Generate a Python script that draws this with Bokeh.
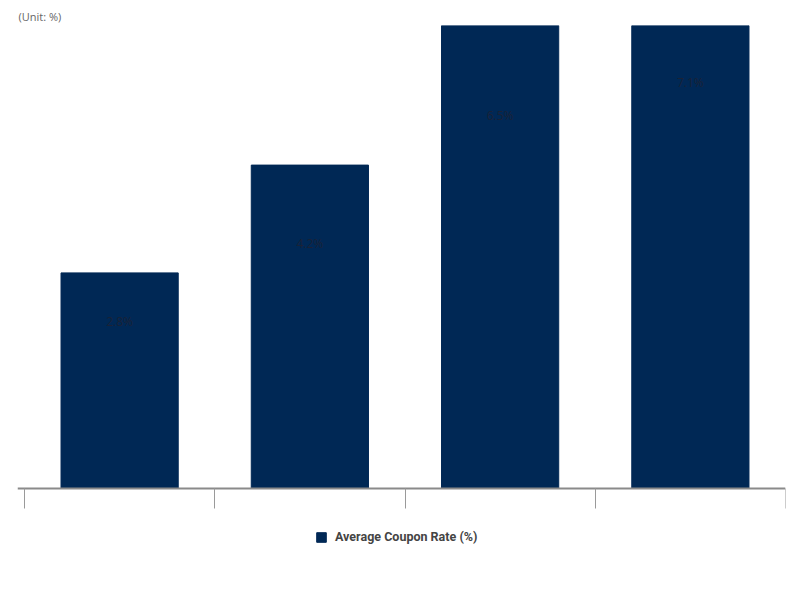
from bokeh.plotting import figure
from bokeh.models import (ColumnDataSource, Range1d, Legend, LegendItem, FixedTicker,
                          LinearAxis, CustomJSTickFormatter)
from bokeh.embed import file_html
from bokeh.resources import INLINE
from bokeh.core.properties import value

categories = ["A", "B", "C", "D"]
positions = [0.5, 1.5, 2.5, 3.5]
rates = [2.8, 4.2, 6.5, 7.1]
labels = ["2.8%", "4.2%", "6.5%", "7.1%"]

src = ColumnDataSource(dict(x=positions, top=rates, lab=labels, ly=rates))

p = figure(frame_width=768, frame_height=535, output_backend="svg", toolbar_location=None,
           x_range=Range1d(-0.0368, 4.0), y_range=Range1d(-0.935, 6.013),
           min_border_left=17, min_border_right=15, min_border_top=25, min_border_bottom=0,
           x_axis_location=None, y_axis_location=None)
p.extra_y_ranges = {"lab": Range1d(-1.49, 8.115)}
p.outline_line_color = None
p.grid.visible = False
p.background_fill_color = "white"
p.border_fill_color = "white"

p.title.text = "(Unit: %)"
p.title.text_font = "Open Sans"
p.title.text_font_size = "11px"
p.title.text_font_style = "normal"
p.title.text_color = "#666666"
p.title.offset = 1
p.title.standoff = 3

r = p.vbar(x="x", top="top", width=0.616, bottom=0, source=src, color="#002855")
p.text(x="x", y="ly", text="lab", source=src, y_range_name="lab",
       text_align="center", text_baseline="middle", text_font=value("Open Sans"),
       text_font_size="12px", text_color="#1a2236")

ax = LinearAxis(ticker=FixedTicker(ticks=[0, 1, 2, 3, 4]),
                formatter=CustomJSTickFormatter(code="return ''"),
                fixed_location=0)
ax.major_label_standoff = 0
ax.major_tick_out = 20
ax.major_tick_in = 0
ax.minor_tick_out = 0
ax.minor_tick_in = 0
ax.major_tick_line_color = "#9a9a9a"
ax.axis_line_color = "#8a8a8a"
ax.axis_line_width = 2
p.add_layout(ax, "below")

legend = Legend(items=[LegendItem(label="Average Coupon Rate (%)", renderers=[r])],
                orientation="horizontal", location=(298, 16),
                label_text_font="Roboto", label_text_font_style="bold",
                label_text_font_size="12.5px", label_text_color="#444444",
                glyph_width=12, glyph_height=12, label_standoff=8,
                border_line_color=None, background_fill_alpha=0,
                margin=0, padding=4)
p.add_layout(legend)

open("out.html", "w").write(file_html(p, INLINE))
